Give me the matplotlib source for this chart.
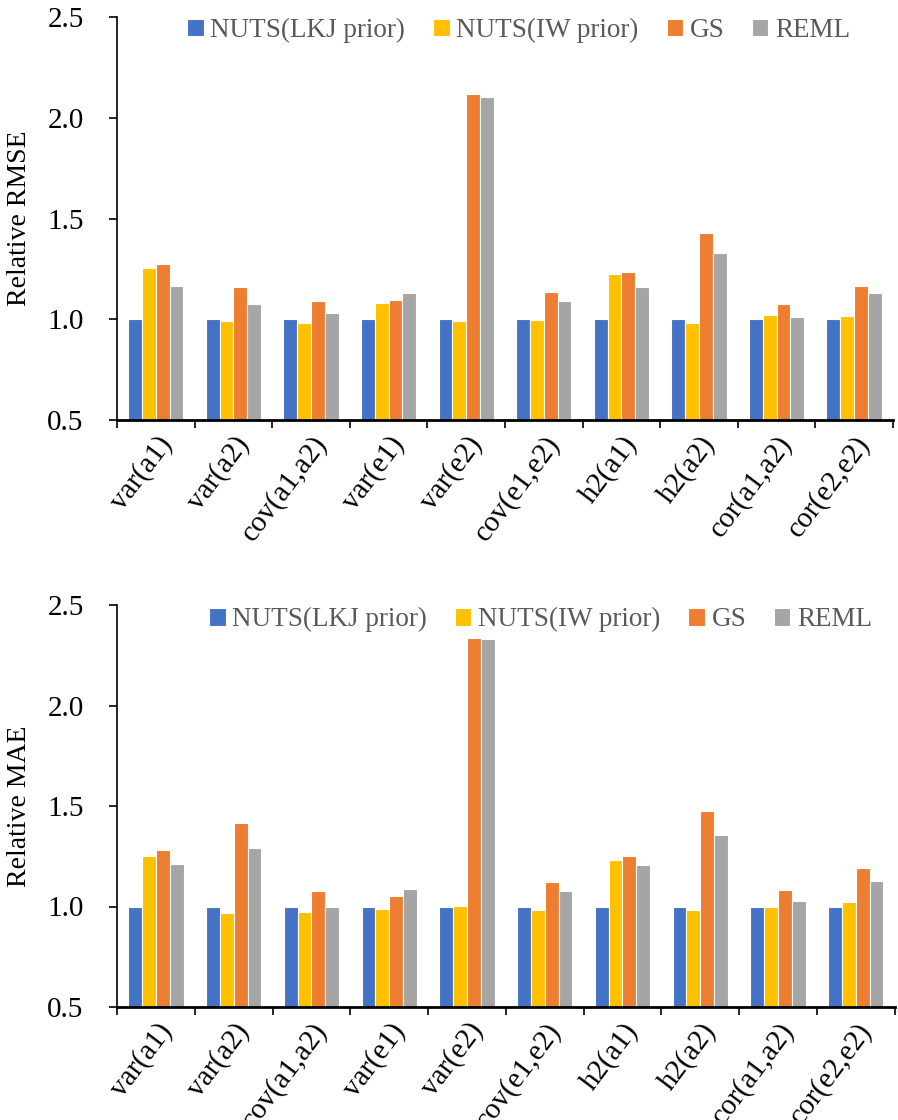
import matplotlib
matplotlib.use('Agg')
import matplotlib.pyplot as plt
import numpy as np
from matplotlib.ticker import FormatStrFormatter

plt.rcParams.update({
    'font.family': ['Liberation Serif', 'DejaVu Serif'],
    'font.size': 18,
})

# Data
params = ['var(a1)', 'var(a2)', 'cov(a1,a2)', 'var(e1)', 'var(e2)',
          'cov(e1,e2)', 'h2(a1)', 'h2(a2)', 'cor(a1,a2)', 'cor(e2,e2)']
methods = ['NUTS(LKJ prior)', 'NUTS(IW prior)', 'GS', 'REML']
colors = ['#4472C4', '#FFC000', '#ED7D31', '#A5A5A5']

rmse_lkj = [1.0, 1.0, 1.0, 1.0, 1.0, 1.0, 1.0, 1.0, 1.0, 1.0]
rmse_iw = [1.253, 0.990, 0.983, 1.083, 0.990, 0.997, 1.225, 0.982, 1.020, 1.018]
rmse_gs = [1.272, 1.158, 1.092, 1.095, 2.120, 1.135, 1.237, 1.430, 1.077, 1.167]
rmse_reml = [1.167, 1.077, 1.030, 1.132, 2.105, 1.090, 1.158, 1.330, 1.012, 1.128]

mae_lkj = [1.0, 1.0, 1.0, 1.0, 1.0, 1.0, 1.0, 1.0, 1.0, 1.0]
mae_iw = [1.250, 0.967, 0.975, 0.990, 1.003, 0.983, 1.232, 0.982, 0.997, 1.022]
mae_gs = [1.281, 1.416, 1.075, 1.050, 2.338, 1.124, 1.253, 1.474, 1.080, 1.194]
mae_reml = [1.209, 1.290, 1.000, 1.089, 2.333, 1.075, 1.207, 1.354, 1.026, 1.127]

fig = plt.figure(figsize=(8.98, 11.2), dpi=100)
ax_top = fig.add_axes([0.1303, 0.625, 0.864, 0.3598])
ax_bot = fig.add_axes([0.1303, 0.1009, 0.866, 0.3589])

panels = [
    (ax_top, [rmse_lkj, rmse_iw, rmse_gs, rmse_reml], 'Relative RMSE', (0.518, 0.967)),
    (ax_bot, [mae_lkj, mae_iw, mae_gs, mae_reml], 'Relative MAE', (0.545, 0.963)),
]

x = np.arange(len(params))
width = 0.178
offsets = (np.arange(4) - 1.5) * width

for ax, series, ylabel, leg_pos in panels:
    for vals, off, col, name in zip(series, offsets, colors, methods):
        ax.bar(x + off, np.array(vals) - 0.5, width, bottom=0.5, color=col,
               edgecolor='white', linewidth=0.8, label=name)

    ax.set_xlim(-0.5, len(params) - 0.5)
    ax.set_ylim(0.5, 2.5)
    ax.set_yticks([0.5, 1.0, 1.5, 2.0, 2.5])
    ax.yaxis.set_major_formatter(FormatStrFormatter('%.1f'))
    ax.set_ylabel(ylabel, fontsize=20)
    ax.yaxis.set_label_coords(-0.109, 0.5)

    # group boundaries as major ticks, labels on minor ticks at centres
    ax.set_xticks(np.arange(-0.5, len(params), 1.0))
    ax.set_xticklabels([])
    ax.set_xticks(x, minor=True)
    ax.set_xticklabels(params, minor=True, rotation=53, ha='right',
                       rotation_mode='anchor', fontsize=21)
    ax.tick_params(axis='x', which='minor', length=0, pad=8)
    ax.tick_params(axis='x', which='major', direction='out', length=6, width=1.2)
    ax.tick_params(axis='y', direction='out', length=6, width=1.2, labelsize=21, pad=18)

    for side in ['top', 'right']:
        ax.spines[side].set_visible(False)
    for side in ['left', 'bottom']:
        ax.spines[side].set_linewidth(1.2)
    ax.spines['bottom'].set_linewidth(2.0)

    leg = ax.legend(loc='center', bbox_to_anchor=leg_pos, ncol=4, frameon=False,
                    fontsize=19.5, handlelength=0.6, handleheight=0.6,
                    handletextpad=0.25, columnspacing=1.03)
    for t in leg.get_texts():
        t.set_color('#595959')

fig.savefig('out.png', dpi=100)
